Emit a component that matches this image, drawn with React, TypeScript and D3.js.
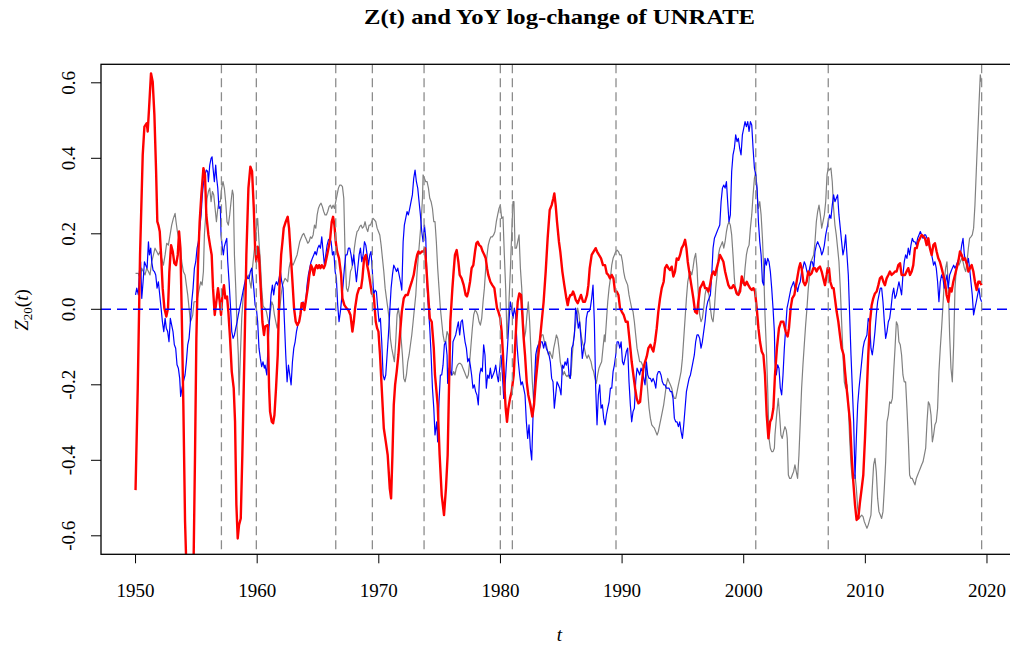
import React, { useEffect } from "react";
import * as d3 from "d3";

type P = [number, number];

// Z_20(t) (blue), YoY log-change of UNRATE (red), comparison series (gray)
const redSeries: P[] = [
[1950.00,-0.479],[1950.18,-0.209],[1950.37,0.144],[1950.59,0.409],[1950.73,0.484],[1950.92,0.493],[1951.00,0.471],[1951.11,0.532],[1951.27,0.625],[1951.41,0.603],[1951.55,0.515],[1951.69,0.365],[1951.79,0.232],[1951.88,0.223],[1951.99,0.206],[1952.10,0.144],[1952.23,0.056],[1952.37,0.003],[1952.53,-0.019],[1952.67,0.003],[1952.78,0.100],[1952.92,0.170],[1953.06,0.153],[1953.19,0.122],[1953.33,0.117],[1953.47,0.144],[1953.58,0.206],[1953.69,0.162],[1953.80,-0.015],[1953.93,-0.253],[1954.07,-0.562],[1954.15,-0.651],[1954.34,-0.78],[1954.62,-0.78],[1954.78,-0.651],[1954.89,-0.386],[1955.00,-0.077],[1955.14,0.126],[1955.27,0.232],[1955.41,0.303],[1955.58,0.374],[1955.71,0.356],[1955.82,0.250],[1955.99,0.197],[1956.12,0.170],[1956.26,0.144],[1956.37,0.056],[1956.51,-0.015],[1956.64,0.020],[1956.78,0.056],[1956.92,0.020],[1957.03,-0.015],[1957.14,0.038],[1957.27,0.064],[1957.38,0.029],[1957.52,0.034],[1957.63,-0.006],[1957.77,-0.077],[1957.91,-0.165],[1958.07,-0.209],[1958.18,-0.297],[1958.29,-0.518],[1958.40,-0.607],[1958.51,-0.571],[1958.65,-0.554],[1958.78,-0.386],[1958.95,-0.121],[1959.11,0.144],[1959.28,0.321],[1959.44,0.378],[1959.58,0.365],[1959.72,0.268],[1959.83,0.162],[1959.93,0.126],[1960.04,0.166],[1960.15,0.144],[1960.29,0.056],[1960.43,-0.033],[1960.56,-0.068],
[1960.65,-0.046],[1960.87,-0.042],[1960.98,-0.209],[1961.06,-0.271],[1961.20,-0.298],[1961.31,-0.302],[1961.42,-0.280],[1961.55,-0.209],[1961.69,-0.121],[1961.83,0.056],[1961.97,0.144],[1962.08,0.179],[1962.18,0.215],[1962.35,0.232],[1962.51,0.245],[1962.62,0.215],[1962.76,0.144],[1962.90,0.073],[1963.03,0.003],[1963.17,-0.033],[1963.31,-0.042],[1963.45,-0.033],[1963.55,-0.015],[1963.66,0.016],[1963.77,0.016],[1963.88,-0.002],[1963.99,0.020],[1964.16,0.056],[1964.29,0.091],[1964.43,0.117],[1964.54,0.109],[1964.65,0.091],[1964.76,0.109],[1964.87,0.117],[1964.98,0.109],[1965.09,0.117],[1965.20,0.109],[1965.31,0.117],[1965.47,0.109],[1965.58,0.117],[1965.75,0.144],[1965.86,0.162],[1965.99,0.184],[1966.13,0.232],[1966.24,0.245],[1966.35,0.223],[1966.46,0.179],[1966.57,0.153],[1966.73,0.135],[1966.90,0.091],[1967.01,0.029],[1967.17,0.011],[1967.34,0.003],[1967.50,-0.002],[1967.67,-0.015],[1967.83,-0.059],[1967.94,-0.033],[1968.05,0.003],[1968.21,0.038],[1968.38,0.056],[1968.54,0.056],[1968.65,0.082],[1968.79,0.135],[1968.93,0.144],[1969.04,0.117],[1969.15,0.100],[1969.28,0.073],[1969.42,0.042],[1969.58,0.038],[1969.75,-0.033],[1969.86,-0.050],[1969.97,-0.059],[1970.10,-0.121],[1970.24,-0.209],[1970.41,-0.315],[1970.57,-0.350],[1970.73,-0.386],[1970.90,-0.474],[1971.01,-0.501],[1971.12,-0.386],[1971.23,-0.253],[1971.34,-0.200],[1971.47,-0.165],[1971.61,-0.121],[1971.78,-0.050],[1971.89,-0.006],[1972.05,0.029],[1972.21,0.038],[1972.38,0.038],[1972.54,0.056],[1972.71,0.073],[1972.87,0.091],[1973.04,0.126],[1973.15,0.144],[1973.26,0.153],[1973.39,0.148],[1973.53,0.153],[1973.69,0.153],[1973.80,0.162],[1973.91,0.109],[1974.02,0.056],[1974.19,-0.024],[1974.35,-0.033],[1974.52,-0.103],
[1974.62,-0.174],[1974.84,-0.253],[1975.00,-0.386],[1975.17,-0.492],[1975.36,-0.545],[1975.52,-0.474],[1975.66,-0.386],[1975.77,-0.209],[1975.88,-0.033],[1976.05,0.056],[1976.15,0.100],[1976.26,0.144],[1976.40,0.157],[1976.54,0.126],[1976.65,0.091],[1976.81,0.082],[1976.98,0.064],[1977.14,0.038],[1977.25,0.034],[1977.36,0.047],[1977.50,0.073],[1977.63,0.109],[1977.77,0.117],[1977.91,0.153],[1978.02,0.175],[1978.13,0.179],[1978.26,0.170],[1978.40,0.166],[1978.54,0.153],[1978.68,0.144],[1978.79,0.135],[1978.90,0.109],[1979.00,0.091],[1979.17,0.073],[1979.33,0.064],[1979.50,0.056],[1979.61,0.029],[1979.72,0.003],[1979.83,-0.006],[1979.99,-0.024],[1980.10,-0.059],[1980.21,-0.121],[1980.32,-0.200],[1980.43,-0.262],[1980.54,-0.298],[1980.65,-0.262],[1980.79,-0.236],[1980.92,-0.218],[1981.09,-0.174],[1981.20,-0.103],[1981.31,-0.033],[1981.42,0.020],[1981.55,0.042],[1981.69,0.038],[1981.80,-0.015],[1981.91,-0.077],[1982.02,-0.121],[1982.16,-0.192],[1982.29,-0.227],[1982.46,-0.253],[1982.62,-0.284],[1982.76,-0.253],[1982.90,-0.192],[1983.06,-0.139],[1983.23,-0.086],[1983.39,-0.033],[1983.55,0.020],[1983.72,0.100],[1983.88,0.188],[1984.05,0.263],[1984.21,0.276],[1984.35,0.294],[1984.43,0.307],[1984.54,0.276],[1984.65,0.232],[1984.81,0.179],[1984.92,0.153],[1985.09,0.100],[1985.25,0.064],[1985.42,0.029],[1985.53,0.011],[1985.64,0.029],[1985.75,0.038],[1985.86,0.038],[1985.97,0.047],[1986.08,0.038],[1986.19,0.025],[1986.35,0.016],[1986.51,0.029],[1986.62,0.038],[1986.79,0.020],[1986.95,0.020],[1987.12,0.038],[1987.23,0.064],[1987.34,0.109],[1987.50,0.144],[1987.66,0.153],[1987.83,0.162],[1987.94,0.153],[1988.10,0.144],[1988.27,0.135],[1988.43,0.117],
[1988.60,0.117],[1988.74,0.095],[1988.87,0.091],[1989.01,0.082],[1989.15,0.091],[1989.29,0.082],[1989.42,0.047],[1989.56,0.047],[1989.70,0.038],[1989.83,0.003],[1989.97,-0.006],[1990.13,-0.015],[1990.30,-0.033],[1990.46,-0.033],[1990.57,-0.068],[1990.68,-0.103],[1990.79,-0.139],[1990.93,-0.174],[1991.07,-0.209],[1991.20,-0.236],[1991.34,-0.249],[1991.48,-0.245],[1991.61,-0.200],[1991.75,-0.156],[1991.89,-0.139],[1992.03,-0.125],[1992.16,-0.103],[1992.33,-0.094],[1992.44,-0.103],[1992.57,-0.112],[1992.71,-0.086],[1992.85,-0.050],[1992.98,-0.006],[1993.12,0.029],[1993.26,0.056],[1993.42,0.073],[1993.53,0.109],[1993.67,0.117],[1993.81,0.109],[1993.94,0.104],[1994.08,0.113],[1994.22,0.087],[1994.35,0.100],[1994.49,0.135],[1994.63,0.131],[1994.77,0.144],[1994.90,0.162],[1995.04,0.170],[1995.18,0.184],[1995.29,0.162],[1995.40,0.126],[1995.56,0.091],[1995.73,0.056],[1995.86,0.029],[1996.00,-0.006],[1996.16,-0.011],[1996.27,0.020],[1996.41,0.056],[1996.55,0.064],[1996.68,0.073],[1996.82,0.056],[1996.96,0.056],[1997.10,0.047],[1997.23,0.064],[1997.37,0.091],[1997.51,0.100],[1997.64,0.091],[1997.78,0.109],[1997.92,0.126],[1998.05,0.144],[1998.19,0.135],[1998.33,0.126],[1998.47,0.100],[1998.60,0.082],[1998.74,0.064],[1998.88,0.056],[1999.01,0.056],[1999.15,0.064],[1999.29,0.056],[1999.42,0.042],[1999.56,0.038],[1999.70,0.047],[1999.84,0.087],[1999.97,0.073],[2000.11,0.064],[2000.25,0.073],[2000.38,0.064],[2000.52,0.056],[2000.66,0.051],[2000.80,0.056],[2000.93,0.047],[2001.07,0.003],[2001.21,-0.050],[2001.34,-0.086],[2001.48,-0.112],[2001.62,-0.121],[2001.75,-0.174],[2001.89,-0.280],[2002.03,-0.342],[2002.17,-0.298],[2002.30,-0.289],[2002.44,-0.262],
[2002.57,-0.174],[2002.73,-0.103],[2002.90,-0.050],[2003.06,-0.033],[2003.26,-0.033],[2003.45,-0.059],[2003.61,-0.072],[2003.72,-0.050],[2003.86,0.003],[2003.99,0.029],[2004.16,0.038],[2004.35,0.073],[2004.54,0.109],[2004.65,0.122],[2004.76,0.109],[2004.90,0.073],[2005.04,0.064],[2005.17,0.073],[2005.31,0.100],[2005.45,0.091],[2005.58,0.095],[2005.72,0.109],[2005.86,0.109],[2005.99,0.100],[2006.13,0.109],[2006.27,0.113],[2006.41,0.100],[2006.54,0.082],[2006.68,0.064],[2006.82,0.091],[2006.90,0.109],[2007.01,0.109],[2007.12,0.073],[2007.28,0.056],[2007.39,0.056],[2007.50,0.029],[2007.64,-0.006],[2007.78,-0.033],[2007.91,-0.068],[2008.05,-0.103],[2008.22,-0.121],[2008.33,-0.165],[2008.46,-0.209],[2008.60,-0.253],[2008.74,-0.298],[2008.87,-0.386],[2009.01,-0.457],[2009.15,-0.518],[2009.28,-0.558],[2009.42,-0.554],[2009.56,-0.510],[2009.70,-0.474],[2009.83,-0.439],[2009.97,-0.342],[2010.11,-0.227],[2010.24,-0.121],[2010.38,-0.033],[2010.52,0.011],[2010.65,0.029],[2010.79,0.042],[2010.93,0.047],[2011.07,0.064],[2011.20,0.082],[2011.34,0.087],[2011.48,0.073],[2011.61,0.064],[2011.75,0.082],[2011.89,0.091],[2012.02,0.100],[2012.16,0.091],[2012.30,0.095],[2012.44,0.100],[2012.57,0.100],[2012.71,0.117],[2012.85,0.122],[2012.98,0.091],[2013.12,0.091],[2013.26,0.091],[2013.39,0.100],[2013.53,0.109],[2013.67,0.091],[2013.81,0.100],[2013.94,0.117],[2014.08,0.162],[2014.22,0.162],[2014.35,0.179],[2014.49,0.188],[2014.63,0.197],[2014.77,0.193],[2014.90,0.188],[2015.04,0.170],[2015.18,0.188],[2015.31,0.162],[2015.45,0.144],[2015.59,0.170],[2015.72,0.175],[2015.86,0.153],[2016.00,0.135],[2016.13,0.126],[2016.27,0.109],[2016.41,0.091],[2016.55,0.073],[2016.68,0.038],[2016.82,0.020],[2016.96,0.056],[2017.09,0.047],[2017.23,0.073],[2017.37,0.091],[2017.51,0.109],[2017.64,0.126],[2017.78,0.153],[2017.92,0.144],[2018.05,0.131],[2018.19,0.135],[2018.33,0.122],[2018.47,0.100],[2018.60,0.109],[2018.74,0.117],[2018.88,0.100],[2019.01,0.073],[2019.15,0.051],[2019.29,0.073],[2019.42,0.073],[2019.56,0.064]
];

const blueSeries: P[] = [
[1950.00,0.038],[1950.10,0.056],[1950.23,0.038],[1950.32,0.100],[1950.42,0.126],[1950.51,0.029],[1950.62,0.073],[1950.73,0.126],[1950.84,0.117],[1950.95,0.109],[1951.06,0.179],[1951.14,0.144],[1951.25,0.162],[1951.33,0.126],[1951.44,0.104],[1951.55,0.100],[1951.66,0.091],[1951.77,0.056],[1951.88,0.073],[1951.99,0.038],[1952.10,0.003],[1952.21,-0.033],[1952.32,-0.059],[1952.43,-0.024],[1952.53,-0.050],[1952.64,-0.059],[1952.75,-0.086],[1952.86,-0.024],[1952.97,-0.042],[1953.08,-0.059],[1953.19,-0.094],[1953.30,-0.103],[1953.41,-0.147],[1953.52,-0.156],[1953.63,-0.183],[1953.71,-0.231],[1953.82,-0.209],[1953.93,-0.192],[1954.07,-0.174],[1954.18,-0.139],[1954.29,-0.094],[1954.40,-0.077],[1954.51,-0.033],[1954.62,0.020],[1954.73,0.056],[1954.84,0.109],[1954.95,0.126],[1955.06,0.162],[1955.17,0.179],[1955.28,0.215],[1955.39,0.250],[1955.49,0.303],[1955.60,0.338],[1955.71,0.356],[1955.82,0.369],[1955.93,0.365],[1955.99,0.338],[1956.10,0.382],[1956.21,0.400],[1956.29,0.404],[1956.37,0.374],[1956.48,0.338],[1956.59,0.382],[1956.67,0.347],[1956.76,0.321],[1956.86,0.267],[1956.97,0.272],[1957.03,0.197],[1957.14,0.162],[1957.22,0.144],[1957.30,0.166],[1957.41,0.179],[1957.50,0.188],[1957.58,0.126],[1957.69,0.073],[1957.80,0.011],[1957.91,-0.059],[1958.02,-0.077],[1958.13,-0.068],[1958.24,-0.050],[1958.35,-0.033],[1958.45,-0.015],[1958.56,0.003],[1958.67,0.020],[1958.78,0.038],[1958.89,0.056],[1959.00,0.073],[1959.11,0.091],[1959.22,0.082],[1959.33,0.082],[1959.44,0.100],[1959.55,0.109],[1959.61,0.091],[1959.72,0.056],[1959.83,0.011],[1959.93,0.003],[1960.04,-0.033],[1960.15,-0.103],[1960.26,-0.130],[1960.37,-0.152],[1960.48,-0.139],[1960.59,-0.156],
[1960.65,-0.148],[1960.79,-0.174],[1960.92,-0.077],[1961.03,-0.015],[1961.14,0.038],[1961.25,0.064],[1961.36,0.038],[1961.47,0.064],[1961.58,0.073],[1961.69,0.064],[1961.80,0.082],[1961.91,0.100],[1962.02,0.073],[1962.13,0.056],[1962.24,-0.033],[1962.35,-0.121],[1962.46,-0.192],[1962.57,-0.148],[1962.68,-0.174],[1962.79,-0.200],[1962.90,-0.139],[1963.01,-0.103],[1963.12,-0.086],[1963.23,-0.059],[1963.34,-0.042],[1963.45,-0.033],[1963.55,-0.015],[1963.66,0.003],[1963.77,0.020],[1963.88,0.003],[1963.99,0.020],[1964.10,0.064],[1964.21,0.091],[1964.32,0.109],[1964.43,0.126],[1964.54,0.135],[1964.65,0.144],[1964.76,0.153],[1964.87,0.144],[1964.98,0.162],[1965.09,0.170],[1965.20,0.162],[1965.31,0.192],[1965.42,0.153],[1965.53,0.117],[1965.64,0.144],[1965.75,0.170],[1965.86,0.184],[1965.97,0.188],[1966.08,0.179],[1966.19,0.144],[1966.30,0.153],[1966.41,0.100],[1966.51,0.082],[1966.62,0.011],[1966.73,-0.033],[1966.84,-0.006],[1966.95,0.029],[1967.06,0.064],[1967.17,0.109],[1967.28,0.144],[1967.39,0.144],[1967.50,0.162],[1967.61,0.162],[1967.72,0.144],[1967.83,0.117],[1967.94,0.144],[1968.05,0.109],[1968.16,0.073],[1968.27,0.109],[1968.38,0.144],[1968.49,0.162],[1968.60,0.126],[1968.71,0.144],[1968.82,0.179],[1968.93,0.170],[1969.04,0.144],[1969.15,0.117],[1969.26,0.144],[1969.36,0.153],[1969.47,0.100],[1969.58,0.038],[1969.69,0.051],[1969.80,0.047],[1969.91,0.003],[1970.02,-0.033],[1970.13,-0.024],[1970.24,-0.086],[1970.35,-0.174],[1970.46,-0.187],[1970.57,-0.174],[1970.68,-0.121],[1970.79,-0.068],[1970.90,-0.006],[1971.01,0.056],[1971.12,0.091],[1971.23,0.117],[1971.34,0.109],[1971.45,0.100],[1971.56,0.109],[1971.67,0.091],[1971.78,0.073],[1971.89,0.051],[1972.00,0.179],[1972.10,0.223],[1972.21,0.241],[1972.32,0.259],[1972.43,0.250],[1972.54,0.267],[1972.65,0.285],[1972.76,0.303],[1972.87,0.347],[1972.98,0.369],[1973.09,0.338],[1973.20,0.321],[1973.31,0.285],[1973.42,0.250],[1973.53,0.206],[1973.64,0.179],[1973.75,0.223],[1973.86,0.188],[1973.97,0.064],[1974.08,0.003],[1974.19,-0.050],[1974.30,-0.121],[1974.41,-0.209],[1974.52,-0.262],
[1974.62,-0.333],[1974.76,-0.298],[1974.84,-0.351],[1974.95,-0.245],[1975.06,-0.174],[1975.17,-0.174],[1975.28,-0.148],[1975.39,-0.094],[1975.50,-0.086],[1975.61,-0.121],[1975.66,-0.196],[1975.77,-0.156],[1975.88,-0.165],[1975.99,-0.174],[1976.10,-0.086],[1976.21,-0.077],[1976.32,-0.068],[1976.43,-0.050],[1976.54,-0.033],[1976.65,-0.068],[1976.76,-0.033],[1976.87,-0.028],[1976.98,-0.059],[1977.09,-0.086],[1977.20,-0.103],[1977.31,-0.139],[1977.42,-0.130],[1977.52,-0.148],[1977.63,-0.174],[1977.74,-0.209],[1977.85,-0.200],[1977.96,-0.218],[1978.07,-0.227],[1978.18,-0.253],[1978.29,-0.174],[1978.40,-0.156],[1978.51,-0.165],[1978.62,-0.094],[1978.73,-0.121],[1978.84,-0.209],[1978.95,-0.174],[1979.06,-0.183],[1979.17,-0.156],[1979.28,-0.183],[1979.39,-0.174],[1979.50,-0.165],[1979.61,-0.148],[1979.72,-0.174],[1979.83,-0.192],[1979.94,-0.156],[1980.05,-0.121],[1980.16,-0.174],[1980.27,-0.236],[1980.37,-0.209],[1980.48,-0.148],[1980.59,-0.094],[1980.70,-0.033],[1980.81,0.020],[1980.92,0.003],[1981.03,-0.024],[1981.14,0.003],[1981.25,-0.015],[1981.36,-0.094],[1981.47,-0.139],[1981.58,-0.174],[1981.69,-0.200],[1981.80,-0.192],[1981.91,-0.209],[1982.02,-0.227],[1982.13,-0.298],[1982.24,-0.342],[1982.35,-0.306],[1982.46,-0.368],[1982.57,-0.399],[1982.68,-0.280],[1982.79,-0.200],[1982.90,-0.121],[1983.01,-0.103],[1983.12,-0.094],[1983.23,-0.103],[1983.33,-0.086],[1983.44,-0.086],[1983.55,-0.103],[1983.66,-0.086],[1983.77,-0.103],[1983.88,-0.112],[1983.99,-0.121],[1984.10,-0.139],[1984.21,-0.183],[1984.32,-0.192],[1984.43,-0.262],[1984.54,-0.227],[1984.65,-0.192],[1984.76,-0.200],[1984.87,-0.209],[1984.98,-0.227],[1985.09,-0.148],[1985.20,-0.156],[1985.31,-0.139],[1985.42,-0.148],[1985.53,-0.130],[1985.64,-0.174],[1985.75,-0.183],[1985.86,-0.103],[1985.97,-0.094],[1986.08,-0.068],[1986.18,0.003],[1986.29,-0.015],[1986.40,-0.050],[1986.51,-0.033],[1986.62,-0.077],[1986.73,-0.130],[1986.84,-0.103],[1986.95,-0.086],[1987.06,-0.024],[1987.17,-0.006],[1987.28,-0.006],[1987.39,0.003],[1987.50,0.029],[1987.61,0.064],[1987.72,-0.033],[1987.83,-0.209],[1987.94,-0.306],[1988.05,-0.227],[1988.16,-0.200],[1988.27,-0.262],[1988.38,-0.253],[1988.49,-0.289],
[1988.60,-0.306],[1988.71,-0.280],[1988.82,-0.262],[1988.93,-0.245],[1989.04,-0.209],[1989.15,-0.209],[1989.26,-0.165],[1989.37,-0.147],[1989.48,-0.121],[1989.59,-0.086],[1989.70,-0.086],[1989.81,-0.103],[1989.92,-0.086],[1990.03,-0.139],[1990.13,-0.147],[1990.24,-0.130],[1990.35,-0.112],[1990.46,-0.103],[1990.57,-0.192],[1990.68,-0.253],[1990.79,-0.298],[1990.90,-0.271],[1991.01,-0.262],[1991.12,-0.192],[1991.23,-0.156],[1991.34,-0.165],[1991.45,-0.174],[1991.56,-0.156],[1991.67,-0.165],[1991.78,-0.183],[1991.89,-0.200],[1992.00,-0.139],[1992.11,-0.174],[1992.22,-0.183],[1992.33,-0.183],[1992.44,-0.192],[1992.55,-0.183],[1992.66,-0.192],[1992.77,-0.209],[1992.88,-0.174],[1992.98,-0.165],[1993.09,-0.165],[1993.20,-0.174],[1993.31,-0.192],[1993.42,-0.200],[1993.53,-0.200],[1993.64,-0.209],[1993.75,-0.209],[1993.86,-0.209],[1993.97,-0.218],[1994.08,-0.218],[1994.19,-0.236],[1994.30,-0.289],[1994.41,-0.298],[1994.52,-0.298],[1994.63,-0.311],[1994.74,-0.298],[1994.85,-0.324],[1994.96,-0.342],[1995.07,-0.306],[1995.18,-0.262],[1995.29,-0.218],[1995.40,-0.200],[1995.51,-0.183],[1995.62,-0.174],[1995.73,-0.156],[1995.83,-0.139],[1995.94,-0.121],[1996.05,-0.086],[1996.16,-0.068],[1996.27,-0.068],[1996.38,-0.077],[1996.49,-0.103],[1996.60,-0.086],[1996.71,-0.059],[1996.82,-0.033],[1996.93,0.003],[1997.04,0.020],[1997.15,0.029],[1997.26,0.038],[1997.37,0.091],[1997.48,0.162],[1997.59,0.188],[1997.70,0.197],[1997.81,0.206],[1997.92,0.215],[1998.03,0.223],[1998.14,0.285],[1998.25,0.321],[1998.36,0.329],[1998.47,0.321],[1998.58,0.338],[1998.68,0.285],[1998.79,0.232],[1998.90,0.250],[1999.01,0.365],[1999.12,0.409],[1999.23,0.426],[1999.34,0.462],[1999.45,0.444],[1999.56,0.453],[1999.67,0.426],[1999.78,0.409],[1999.89,0.462],[2000.00,0.479],[2000.11,0.497],[2000.22,0.484],[2000.33,0.497],[2000.44,0.471],[2000.55,0.497],[2000.66,0.488],[2000.77,0.426],[2000.88,0.374],[2000.99,0.356],[2001.10,0.321],[2001.21,0.232],[2001.32,0.179],[2001.43,0.144],[2001.54,0.073],[2001.64,0.064],[2001.75,0.135],[2001.86,0.117],[2001.97,0.135],[2002.08,0.126],[2002.19,0.100],[2002.30,0.056],[2002.41,0.003],[2002.52,-0.059],
[2002.57,-0.139],[2002.68,-0.174],[2002.79,-0.147],[2002.90,-0.156],[2003.01,-0.209],[2003.12,-0.227],[2003.23,-0.174],[2003.34,-0.103],[2003.45,-0.050],[2003.56,0.003],[2003.67,0.020],[2003.78,0.038],[2003.89,0.056],[2003.99,0.064],[2004.10,0.073],[2004.21,0.056],[2004.32,0.064],[2004.43,0.047],[2004.54,0.064],[2004.65,0.073],[2004.76,0.100],[2004.87,0.109],[2004.98,0.126],[2005.09,0.117],[2005.20,0.100],[2005.31,0.091],[2005.42,0.109],[2005.53,0.126],[2005.64,0.126],[2005.75,0.109],[2005.86,0.153],[2005.97,0.170],[2006.08,0.179],[2006.19,0.170],[2006.30,0.162],[2006.41,0.144],[2006.52,0.153],[2006.63,0.170],[2006.74,0.197],[2006.85,0.215],[2006.95,0.232],[2007.06,0.250],[2007.17,0.241],[2007.28,0.276],[2007.39,0.303],[2007.50,0.285],[2007.61,0.294],[2007.72,0.303],[2007.83,0.250],[2007.94,0.215],[2008.05,0.179],[2008.16,0.144],[2008.27,0.162],[2008.38,0.197],[2008.49,0.144],[2008.60,0.091],[2008.71,-0.015],[2008.82,-0.121],[2008.93,-0.209],[2009.04,-0.298],[2009.15,-0.448],[2009.26,-0.342],[2009.37,-0.253],[2009.48,-0.209],[2009.59,-0.174],[2009.70,-0.139],[2009.81,-0.103],[2009.91,-0.086],[2010.02,-0.077],[2010.13,-0.068],[2010.24,-0.024],[2010.35,-0.033],[2010.46,-0.103],[2010.57,-0.121],[2010.68,-0.094],[2010.79,-0.059],[2010.90,-0.015],[2011.01,0.020],[2011.12,0.038],[2011.23,0.056],[2011.34,0.056],[2011.45,0.020],[2011.56,-0.033],[2011.67,-0.077],[2011.78,-0.059],[2011.89,-0.033],[2012.00,-0.024],[2012.11,0.003],[2012.22,0.038],[2012.33,0.056],[2012.44,0.029],[2012.55,0.038],[2012.66,0.056],[2012.76,0.073],[2012.87,0.056],[2012.98,0.038],[2013.09,0.091],[2013.20,0.126],[2013.31,0.144],[2013.42,0.135],[2013.53,0.162],[2013.64,0.144],[2013.75,0.170],[2013.86,0.188],[2013.97,0.179],[2014.08,0.179],[2014.19,0.170],[2014.30,0.188],[2014.41,0.197],[2014.52,0.206],[2014.63,0.197],[2014.74,0.188],[2014.85,0.197],[2014.96,0.197],[2015.07,0.188],[2015.18,0.179],[2015.29,0.162],[2015.40,0.153],[2015.51,0.135],[2015.61,0.117],[2015.72,0.126],[2015.83,0.109],[2015.94,0.073],[2016.05,0.020],[2016.16,0.073],[2016.27,0.091],[2016.38,0.082],[2016.49,0.056],[2016.60,0.073],[2016.71,0.091],[2016.82,0.056],[2016.93,0.091],[2017.04,0.100],[2017.15,0.109],[2017.26,0.117],[2017.37,0.109],[2017.48,0.117],[2017.59,0.126],[2017.70,0.135],[2017.81,0.144],[2017.92,0.170],[2018.03,0.188],[2018.14,0.144],[2018.25,0.126],[2018.36,0.117],[2018.47,0.135],[2018.57,0.109],[2018.68,0.073],[2018.79,0.038],[2018.90,-0.015],[2019.01,0.003],[2019.12,0.020],[2019.23,0.038],[2019.34,0.056],[2019.45,0.029],[2019.56,0.020]
];

const graySeries: P[] = [
[1950.00,0.095],[1950.23,0.095],[1950.37,0.082],[1950.51,0.109],[1950.64,0.100],[1950.78,0.091],[1950.92,0.109],[1951.06,0.100],[1951.19,0.091],[1951.33,0.126],[1951.47,0.144],[1951.60,0.162],[1951.74,0.153],[1951.88,0.144],[1952.01,0.153],[1952.15,0.135],[1952.29,0.117],[1952.43,0.144],[1952.56,0.175],[1952.70,0.170],[1952.84,0.197],[1952.97,0.223],[1953.11,0.241],[1953.25,0.254],[1953.33,0.232],[1953.44,0.206],[1953.55,0.188],[1953.66,0.170],[1953.80,0.126],[1953.93,0.100],[1954.07,0.091],[1954.18,0.064],[1954.29,0.038],[1954.40,0.003],[1954.51,-0.033],[1954.62,-0.024],[1954.70,-0.015],[1954.81,0.020],[1954.92,0.020],[1955.03,0.020],[1955.14,0.038],[1955.25,0.056],[1955.36,0.073],[1955.47,0.064],[1955.58,0.100],[1955.66,0.197],[1955.77,0.250],[1955.88,0.294],[1955.99,0.312],[1956.10,0.321],[1956.21,0.285],[1956.32,0.312],[1956.43,0.303],[1956.54,0.267],[1956.65,0.232],[1956.76,0.267],[1956.86,0.285],[1956.97,0.285],[1957.08,0.321],[1957.19,0.338],[1957.30,0.321],[1957.41,0.285],[1957.52,0.232],[1957.63,0.223],[1957.74,0.250],[1957.85,0.285],[1957.96,0.316],[1958.04,0.303],[1958.13,0.144],[1958.24,0.056],[1958.35,-0.050],[1958.45,-0.121],[1958.51,-0.227],[1958.62,-0.121],[1958.73,-0.024],[1958.84,0.029],[1958.95,0.056],[1959.06,0.073],[1959.17,0.082],[1959.28,0.091],[1959.39,0.073],[1959.50,0.056],[1959.61,0.109],[1959.72,0.144],[1959.83,0.179],[1959.93,0.215],[1960.04,0.241],[1960.15,0.179],[1960.26,0.126],[1960.37,0.056],[1960.48,0.011],[1960.59,0.003],
[1960.65,0.003],[1960.76,-0.006],[1960.87,-0.024],[1960.98,-0.042],[1961.09,-0.006],[1961.20,0.020],[1961.31,0.011],[1961.42,-0.015],[1961.53,-0.033],[1961.64,-0.050],[1961.75,-0.033],[1961.86,0.003],[1961.97,0.038],[1962.08,0.064],[1962.18,0.073],[1962.29,0.082],[1962.40,0.078],[1962.51,0.073],[1962.62,0.109],[1962.73,0.126],[1962.84,0.122],[1962.95,0.117],[1963.06,0.126],[1963.17,0.135],[1963.28,0.144],[1963.39,0.162],[1963.50,0.179],[1963.61,0.188],[1963.72,0.197],[1963.83,0.201],[1963.94,0.192],[1964.05,0.184],[1964.16,0.175],[1964.27,0.179],[1964.38,0.192],[1964.49,0.188],[1964.60,0.197],[1964.71,0.223],[1964.82,0.215],[1964.93,0.250],[1965.03,0.267],[1965.14,0.276],[1965.25,0.281],[1965.36,0.272],[1965.47,0.259],[1965.58,0.250],[1965.69,0.250],[1965.80,0.259],[1965.91,0.272],[1966.02,0.276],[1966.13,0.267],[1966.24,0.276],[1966.35,0.267],[1966.46,0.285],[1966.57,0.303],[1966.68,0.321],[1966.79,0.329],[1966.90,0.329],[1967.01,0.325],[1967.12,0.294],[1967.23,0.144],[1967.34,0.056],[1967.45,0.047],[1967.56,0.064],[1967.67,0.100],[1967.78,0.109],[1967.88,0.126],[1967.99,0.162],[1968.10,0.188],[1968.21,0.206],[1968.32,0.210],[1968.43,0.219],[1968.54,0.223],[1968.65,0.215],[1968.76,0.219],[1968.87,0.232],[1968.98,0.215],[1969.09,0.206],[1969.20,0.223],[1969.31,0.223],[1969.42,0.232],[1969.53,0.241],[1969.64,0.237],[1969.75,0.232],[1969.86,0.215],[1969.97,0.206],[1970.08,0.197],[1970.19,0.170],[1970.30,0.135],[1970.41,0.100],[1970.52,0.056],[1970.63,0.029],[1970.74,0.003],[1970.84,-0.024],[1970.95,-0.077],[1971.06,-0.103],[1971.17,-0.121],[1971.28,-0.139],[1971.39,-0.086],[1971.50,-0.015],[1971.61,0.003],[1971.72,-0.024],[1971.83,-0.077],[1971.94,-0.121],[1972.05,-0.183],[1972.16,-0.192],[1972.27,-0.174],[1972.38,-0.139],[1972.49,-0.121],[1972.60,-0.094],[1972.71,-0.068],[1972.82,-0.033],[1972.93,0.003],[1973.04,0.038],[1973.15,0.100],[1973.26,0.144],[1973.37,0.188],[1973.48,0.232],[1973.59,0.294],[1973.64,0.356],[1973.75,0.347],[1973.86,0.338],[1973.97,0.338],[1974.08,0.321],[1974.19,0.294],[1974.30,0.285],[1974.41,0.267],[1974.52,0.232],
[1974.62,0.232],[1974.73,0.179],[1974.84,0.109],[1974.95,0.056],[1975.06,0.003],[1975.17,-0.033],[1975.28,-0.068],[1975.39,-0.086],[1975.50,-0.086],[1975.61,-0.059],[1975.72,-0.068],[1975.83,-0.121],[1975.94,-0.174],[1976.05,-0.174],[1976.15,-0.165],[1976.26,-0.174],[1976.37,-0.156],[1976.48,-0.147],[1976.59,-0.143],[1976.70,-0.143],[1976.81,-0.147],[1976.92,-0.156],[1977.03,-0.165],[1977.14,-0.174],[1977.25,-0.183],[1977.36,-0.174],[1977.47,-0.139],[1977.58,-0.094],[1977.69,-0.050],[1977.80,-0.015],[1977.91,-0.002],[1978.02,-0.006],[1978.13,-0.015],[1978.24,-0.033],[1978.35,-0.042],[1978.46,-0.024],[1978.57,0.020],[1978.68,0.056],[1978.79,0.109],[1978.90,0.144],[1979.00,0.170],[1979.11,0.184],[1979.22,0.192],[1979.33,0.192],[1979.44,0.197],[1979.55,0.206],[1979.66,0.232],[1979.77,0.250],[1979.88,0.267],[1979.99,0.276],[1980.10,0.241],[1980.21,0.245],[1980.32,0.144],[1980.43,0.056],[1980.54,-0.077],[1980.59,-0.059],[1980.70,0.020],[1980.81,0.100],[1980.92,0.197],[1981.03,0.285],[1981.11,0.285],[1981.20,0.162],[1981.31,0.162],[1981.42,0.179],[1981.53,0.197],[1981.64,0.109],[1981.75,0.056],[1981.85,-0.015],[1981.96,-0.077],[1982.07,-0.059],[1982.18,-0.015],[1982.29,0.020],[1982.40,-0.033],[1982.51,-0.112],[1982.62,-0.192],[1982.73,-0.245],[1982.84,-0.192],[1982.95,-0.139],[1983.06,-0.103],[1983.17,-0.086],[1983.28,-0.077],[1983.39,-0.068],[1983.50,-0.068],[1983.61,-0.086],[1983.72,-0.086],[1983.83,-0.103],[1983.94,-0.121],[1984.05,-0.112],[1984.16,-0.121],[1984.27,-0.130],[1984.38,-0.103],[1984.49,-0.086],[1984.60,-0.068],[1984.71,-0.077],[1984.81,-0.103],[1984.92,-0.139],[1985.03,-0.156],[1985.14,-0.174],[1985.25,-0.165],[1985.36,-0.174],[1985.47,-0.178],[1985.58,-0.174],[1985.69,-0.183],[1985.80,-0.174],[1985.91,-0.121],[1986.02,-0.077],[1986.13,-0.050],[1986.24,-0.024],[1986.35,0.003],[1986.46,-0.015],[1986.57,-0.050],[1986.68,-0.077],[1986.79,-0.094],[1986.90,-0.103],[1987.01,-0.121],[1987.12,-0.130],[1987.23,-0.121],[1987.34,-0.130],[1987.45,-0.139],[1987.55,-0.156],[1987.66,-0.165],[1987.77,-0.183],[1987.88,-0.196],[1987.99,-0.174],[1988.10,-0.156],[1988.21,-0.147],[1988.32,-0.139],[1988.43,-0.103],[1988.54,-0.068],
[1988.60,-0.086],[1988.71,-0.033],[1988.82,0.020],[1988.93,0.056],[1989.04,0.082],[1989.15,0.117],[1989.26,0.135],[1989.37,0.144],[1989.48,0.153],[1989.59,0.157],[1989.70,0.153],[1989.81,0.144],[1989.92,0.144],[1990.03,0.126],[1990.13,0.100],[1990.24,0.082],[1990.35,0.073],[1990.46,0.064],[1990.57,0.038],[1990.68,0.020],[1990.79,0.003],[1990.90,-0.006],[1991.01,-0.033],[1991.12,-0.068],[1991.23,-0.103],[1991.34,-0.121],[1991.45,-0.139],[1991.56,-0.139],[1991.67,-0.147],[1991.78,-0.156],[1991.89,-0.147],[1992.00,-0.174],[1992.11,-0.218],[1992.22,-0.262],[1992.33,-0.289],[1992.44,-0.306],[1992.55,-0.311],[1992.66,-0.315],[1992.77,-0.324],[1992.88,-0.333],[1992.98,-0.324],[1993.09,-0.306],[1993.20,-0.289],[1993.31,-0.271],[1993.42,-0.253],[1993.53,-0.227],[1993.64,-0.200],[1993.75,-0.183],[1993.86,-0.192],[1993.97,-0.200],[1994.08,-0.209],[1994.19,-0.227],[1994.30,-0.236],[1994.41,-0.236],[1994.52,-0.218],[1994.63,-0.200],[1994.74,-0.183],[1994.85,-0.165],[1994.96,-0.130],[1995.07,-0.077],[1995.18,-0.024],[1995.29,0.029],[1995.40,0.073],[1995.51,0.091],[1995.62,0.100],[1995.73,0.091],[1995.83,0.109],[1995.94,0.135],[1996.05,0.148],[1996.16,0.109],[1996.27,0.038],[1996.38,-0.015],[1996.49,-0.033],[1996.60,-0.024],[1996.71,0.003],[1996.82,0.038],[1996.93,0.056],[1997.04,0.047],[1997.15,0.038],[1997.26,0.003],[1997.37,-0.024],[1997.48,-0.033],[1997.59,0.003],[1997.70,0.056],[1997.81,0.091],[1997.92,0.144],[1998.03,0.162],[1998.14,0.170],[1998.25,0.179],[1998.36,0.162],[1998.47,0.179],[1998.58,0.206],[1998.68,0.223],[1998.79,0.232],[1998.90,0.223],[1999.01,0.197],[1999.12,0.144],[1999.23,0.082],[1999.34,0.047],[1999.45,0.038],[1999.56,0.047],[1999.67,0.056],[1999.78,0.064],[1999.89,0.073],[2000.00,0.064],[2000.11,0.109],[2000.22,0.144],[2000.33,0.162],[2000.44,0.170],[2000.55,0.215],[2000.66,0.250],[2000.77,0.303],[2000.88,0.347],[2000.99,0.365],[2001.10,0.303],[2001.21,0.267],[2001.32,0.285],[2001.43,0.250],[2001.54,0.188],[2001.64,0.109],[2001.75,-0.015],[2001.86,-0.103],[2001.97,-0.209],[2002.08,-0.342],[2002.19,-0.368],[2002.30,-0.377],[2002.41,-0.377],[2002.52,-0.368],
[2002.57,-0.333],[2002.73,-0.271],[2002.84,-0.236],[2002.95,-0.280],[2003.06,-0.333],[2003.17,-0.342],[2003.28,-0.324],[2003.39,-0.311],[2003.50,-0.320],[2003.58,-0.342],[2003.67,-0.439],[2003.78,-0.448],[2003.89,-0.448],[2003.99,-0.439],[2004.10,-0.430],[2004.21,-0.412],[2004.32,-0.430],[2004.43,-0.448],[2004.54,-0.386],[2004.65,-0.298],[2004.76,-0.209],[2004.87,-0.147],[2004.98,-0.094],[2005.09,-0.042],[2005.20,0.003],[2005.31,0.056],[2005.42,0.091],[2005.53,0.126],[2005.64,0.135],[2005.75,0.144],[2005.86,0.179],[2005.97,0.232],[2006.08,0.259],[2006.19,0.276],[2006.30,0.250],[2006.41,0.215],[2006.52,0.232],[2006.63,0.250],[2006.74,0.285],[2006.85,0.356],[2006.95,0.374],[2007.06,0.369],[2007.17,0.374],[2007.28,0.338],[2007.39,0.267],[2007.50,0.223],[2007.61,0.197],[2007.72,0.162],[2007.83,0.126],[2007.94,0.056],[2008.05,-0.033],[2008.16,-0.121],[2008.27,-0.192],[2008.38,-0.209],[2008.49,-0.200],[2008.60,-0.253],[2008.71,-0.342],[2008.82,-0.412],[2008.93,-0.448],[2009.04,-0.439],[2009.15,-0.439],[2009.26,-0.474],[2009.37,-0.527],[2009.48,-0.554],[2009.59,-0.549],[2009.70,-0.545],[2009.81,-0.549],[2009.91,-0.562],[2010.02,-0.571],[2010.13,-0.580],[2010.24,-0.571],[2010.35,-0.558],[2010.46,-0.545],[2010.57,-0.474],[2010.68,-0.412],[2010.79,-0.395],[2010.90,-0.430],[2011.01,-0.501],[2011.12,-0.536],[2011.23,-0.545],[2011.34,-0.554],[2011.45,-0.536],[2011.56,-0.474],[2011.67,-0.404],[2011.78,-0.298],[2011.89,-0.280],[2012.00,-0.245],[2012.11,-0.249],[2012.22,-0.236],[2012.33,-0.165],[2012.44,-0.103],[2012.55,-0.033],[2012.66,-0.042],[2012.76,-0.086],[2012.87,-0.094],[2012.98,-0.121],[2013.09,-0.174],[2013.20,-0.192],[2013.31,-0.192],[2013.42,-0.262],[2013.53,-0.342],[2013.64,-0.439],[2013.75,-0.448],[2013.86,-0.448],[2013.97,-0.457],[2014.08,-0.465],[2014.19,-0.448],[2014.30,-0.439],[2014.41,-0.430],[2014.52,-0.421],[2014.63,-0.412],[2014.74,-0.404],[2014.85,-0.386],[2014.96,-0.368],[2015.07,-0.298],[2015.18,-0.245],[2015.29,-0.253],[2015.40,-0.280],[2015.51,-0.351],[2015.61,-0.333],[2015.72,-0.306],[2015.83,-0.298],[2015.94,-0.262],[2016.05,-0.165],[2016.16,-0.103],[2016.27,-0.050],[2016.38,0.011],[2016.49,0.073],[2016.60,0.109],[2016.71,0.126],[2016.82,0.064],[2016.93,-0.068],[2017.04,-0.156],[2017.15,-0.192],[2017.26,-0.094],[2017.37,0.056],[2017.48,0.109],[2017.59,0.126],[2017.70,0.117],[2017.81,0.126],[2017.92,0.135],[2018.03,0.126],[2018.14,0.109],[2018.25,0.100],[2018.36,0.126],[2018.47,0.162],[2018.57,0.188],[2018.68,0.192],[2018.79,0.197],[2018.90,0.215],[2019.01,0.276],[2019.12,0.365],[2019.23,0.453],[2019.34,0.541],[2019.45,0.621],[2019.53,0.603]
];

const eventYears: number[] = [1957.06, 1959.93, 1966.46, 1969.47, 1973.72, 1979.99, 1980.98, 1989.5, 2000.99, 2006.95, 2019.56];
const xTicks: number[] = [1950, 1960, 1970, 1980, 1990, 2000, 2010, 2020];
const yTicks: number[] = [-0.6, -0.4, -0.2, 0.0, 0.2, 0.4, 0.6];
const yTickLabels: string[] = ["-0.6", "-0.4", "-0.2", "0.0", "0.2", "0.4", "0.6"];
const titleText = "Z(t) and YoY log-change of UNRATE";

export default function App() {
  useEffect(() => {
    document.body.style.margin = "0";
  }, []);
  const W = 1010, H = 648;
  const L = 101, R = 1018, T = 64.3, B = 554.3;
  const x = d3.scaleLinear().domain([1947.16, 2022.55]).range([L, R]);
  const y = d3.scaleLinear().domain([-0.649, 0.649]).range([B, T]);
  const line = d3.line<P>().x(d => x(d[0])).y(d => y(d[1]));
  const font = "'Liberation Serif', 'Times New Roman', serif";

  return (
    <svg width={W} height={H} style={{ position: "absolute", left: 0, top: 0, background: "#fff" }} fontFamily={font}>
      <defs>
        <clipPath id="plotclip">
          <rect x={L} y={T} width={R - L} height={B - T} />
        </clipPath>
      </defs>
      <rect x={0} y={0} width={W} height={H} fill="#fff" />
      <text x={(L + R) / 2} y={24} textAnchor="middle" fontWeight="bold" fontSize={21} textLength={391} lengthAdjust="spacingAndGlyphs">{titleText}</text>

      <g clipPath="url(#plotclip)">
        <path d={line(graySeries) || ""} fill="none" stroke="#808080" strokeWidth={1.2} strokeLinejoin="round" />
        <path d={line(blueSeries) || ""} fill="none" stroke="#0000ff" strokeWidth={1.2} strokeLinejoin="round" />
        <path d={line(redSeries) || ""} fill="none" stroke="#ff0000" strokeWidth={2.4} strokeLinejoin="round" />
        <line x1={L} x2={R} y1={y(0)} y2={y(0)} stroke="#0000ff" strokeWidth={1.4} strokeDasharray="10,6" />
        {eventYears.map((e, i) => (
          <line key={i} x1={x(e)} x2={x(e)} y1={T} y2={B} stroke="#8c8c8c" strokeWidth={1.3} strokeDasharray="9,5" />
        ))}
      </g>

      <rect x={L} y={T} width={R - L} height={B - T} fill="none" stroke="#000" strokeWidth={1.3} />

      {xTicks.map((t) => (
        <g key={t}>
          <line x1={x(t)} x2={x(t)} y1={B} y2={B + 9} stroke="#000" strokeWidth={1} />
          <text x={x(t)} y={597} textAnchor="middle" fontSize={19}>{t}</text>
        </g>
      ))}
      {yTicks.map((v, i) => (
        <g key={i}>
          <line x1={L - 10} x2={L} y1={y(v)} y2={y(v)} stroke="#000" strokeWidth={1} />
          <text transform={`translate(75,${y(v)}) rotate(-90)`} textAnchor="middle" fontSize={19}>{yTickLabels[i]}</text>
        </g>
      ))}

      <text x={(L + R) / 2} y={641} textAnchor="middle" fontSize={19} fontStyle="italic">t</text>
      <text transform={`translate(28,310) rotate(-90)`} textAnchor="middle" fontSize={19}>
        <tspan fontStyle="italic">Z</tspan>
        <tspan fontSize={13} dy={4}>20</tspan>
        <tspan dy={-4}>(</tspan>
        <tspan fontStyle="italic">t</tspan>
        <tspan>)</tspan>
      </text>
    </svg>
  );
}
